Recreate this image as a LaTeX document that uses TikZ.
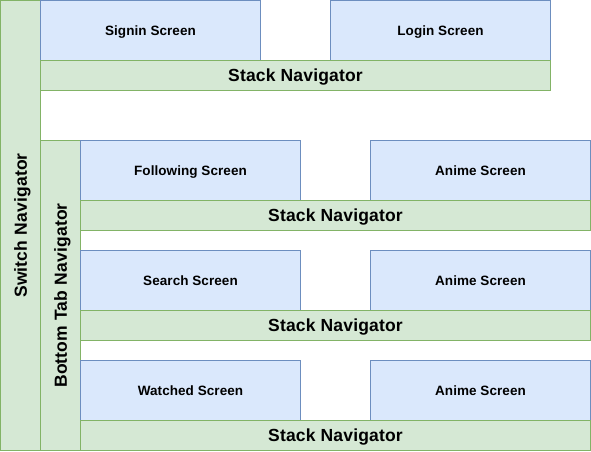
\documentclass[tikz,border=0pt]{standalone}
\usepackage{fontspec}
\setmainfont{Liberation Sans}
\definecolor{bluefill}{RGB}{218,232,252}
\definecolor{bluedraw}{RGB}{108,142,191}
\definecolor{greenfill}{RGB}{213,232,212}
\definecolor{greendraw}{RGB}{130,179,102}
\begin{document}
\begin{tikzpicture}[x=1pt,y=-1pt,
  base/.style={draw, line width=1pt, inner sep=0pt, outer sep=0pt, anchor=north west, text=black, text depth=0pt},
  screen/.style={base, fill=bluefill, draw=bluedraw, text height=9.7pt,
    minimum width=220pt, minimum height=60pt, font=\fontsize{13.5}{15}\selectfont\bfseries\addfontfeature{LetterSpace=0.5}},
  stacknav/.style={base, fill=greenfill, draw=greendraw, text height=12.5pt,
    minimum height=30pt, font=\fontsize{17.5}{19}\selectfont\bfseries\addfontfeature{LetterSpace=1}},
  sidenav/.style={base, fill=greenfill, draw=greendraw, minimum width=40pt},
  vlabel/.style={rotate=90, inner sep=0pt, text=black, text height=12.5pt, text depth=0pt,
    font=\fontsize{17.5}{19}\selectfont\bfseries\addfontfeature{LetterSpace=1}}
]
\useasboundingbox (0,0) rectangle (591,451);
% Switch Navigator
\node[sidenav, minimum height=450pt] (switch) at (0.5,0.5) {};
\node[vlabel] (switchlbl) at (switch.center) {Switch Navigator};
% top stack
\node[screen] (signin) at (40.5,0.5) {Signin Screen};
\node[screen] (login) at (330.5,0.5) {Login Screen};
\node[stacknav, minimum width=510pt] (stack1) at (40.5,60.5) {Stack Navigator};
% Bottom tab
\node[sidenav, minimum height=310pt] (tab) at (40.5,140.5) {};
\node[vlabel] (tablbl) at (tab.center) {Bottom Tab Navigator};
% Stack 2
\node[screen] (following) at (80.5,140.5) {Following Screen};
\node[screen] (anime1) at (370.5,140.5) {Anime Screen};
\node[stacknav, minimum width=510pt] (stack2) at (80.5,200.5) {Stack Navigator};
% Stack 3
\node[screen] (search) at (80.5,250.5) {Search Screen};
\node[screen] (anime2) at (370.5,250.5) {Anime Screen};
\node[stacknav, minimum width=510pt] (stack3) at (80.5,310.5) {Stack Navigator};
% Stack 4
\node[screen] (watched) at (80.5,360.5) {Watched Screen};
\node[screen] (anime3) at (370.5,360.5) {Anime Screen};
\node[stacknav, minimum width=510pt] (stack4) at (80.5,420.5) {Stack Navigator};
\end{tikzpicture}
\end{document}
